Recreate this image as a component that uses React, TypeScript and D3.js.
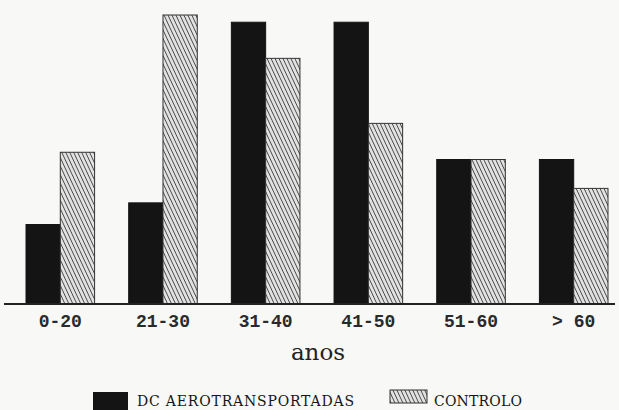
import React from 'react';
import * as d3 from 'd3';

const ageGroups = ['0-20', '21-30', '31-40', '41-50', '51-60', '> 60'];
const dcAero = [11, 14, 39, 39, 20, 20];
const controlo = [21, 40, 34, 25, 20, 16];
const seriesNames = ['DC AEROTRANSPORTADAS', 'CONTROLO'];

const W = 619;
const H = 410;
const base = 304;

const App = () => {
    const x = d3.scaleBand<string>()
        .domain(ageGroups)
        .range([26, 608])
        .paddingInner(0.332);

    const inner = d3.scaleBand<string>()
        .domain(seriesNames)
        .range([0, x.bandwidth()]);

    const y = d3.scaleLinear().domain([0, 40]).range([base, 15]);

    const fills = ['#141414', 'url(#hatch)'];
    const series = [dcAero, controlo];

    return (
        <svg width={W} height={H} style={{ position: 'absolute', left: 0, top: 0, background: '#f8f8f6' }}>
            <defs>
                <pattern id="hatch" width="3.6" height="3.6" patternUnits="userSpaceOnUse" patternTransform="rotate(-25)">
                    <rect width="3.6" height="3.6" fill="#e2e2e2" />
                    <line x1="0" y1="0" x2="0" y2="3.6" stroke="#2a2a2a" strokeWidth="1.5" />
                </pattern>
            </defs>
            <rect width={W} height={H} fill="#f8f8f6" />

            {ageGroups.map((g, i) => (
                <g key={g} transform={`translate(${x(g)},0)`}>
                    {seriesNames.map((s, k) => (
                        <rect
                            key={s}
                            x={inner(s)}
                            y={y(series[k][i])}
                            width={inner.bandwidth()}
                            height={base - y(series[k][i])}
                            fill={fills[k]}
                            stroke={k === 1 ? '#333' : '#141414'}
                            strokeWidth={1}
                        />
                    ))}
                    <text
                        x={x.bandwidth() / 2}
                        y={327}
                        textAnchor="middle"
                        fontFamily="Liberation Mono"
                        fontWeight="bold"
                        fontSize={18}
                        fill="#2a2a2a"
                    >
                        {g}
                    </text>
                </g>
            ))}

            <line x1={4} x2={615} y1={base} y2={base} stroke="#222" strokeWidth={2} />

            <text x={318} y={360} textAnchor="middle" fontFamily="DejaVu Serif" fontSize={23} fill="#222">anos</text>

            <g>
                <rect x={93} y={392} width={35} height={18} fill="#141414" />
                <text x={137} y={406} fontFamily="DejaVu Serif" fontSize={14} textLength={217} fill="#151515">{seriesNames[0]}</text>
                <rect x={390} y={390} width={37} height={13} fill="url(#hatch)" stroke="#333" strokeWidth={1} />
                <text x={434} y={406} fontFamily="DejaVu Serif" fontSize={14} textLength={88} fill="#151515">{seriesNames[1]}</text>
            </g>
        </svg>
    );
};

export default App;
